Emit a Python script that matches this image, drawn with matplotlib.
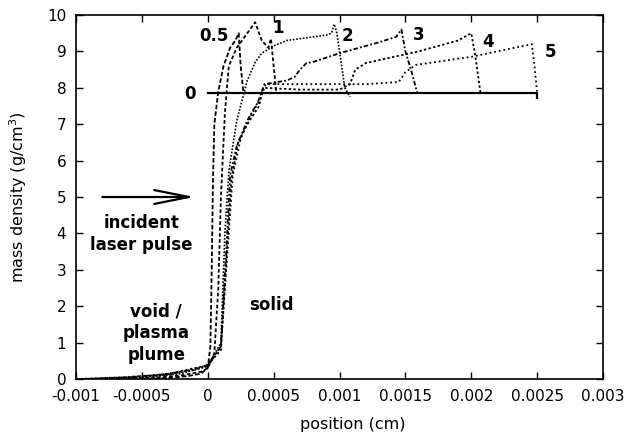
import matplotlib
matplotlib.use("Agg")
import matplotlib.pyplot as plt

# ---- data (position in cm, mass density in g/cm^3) ----
x_t0 = [0.0, 0.0025, 0.0025]
y_t0 = [7.86, 7.86, 7.72]

x_t05 = [-0.0005, -0.0003, -0.00015, -0.00005, 0.0, 0.00002, 0.00003, 0.00004,
         0.00005, 0.00008, 0.00012, 0.00017, 0.00021, 0.000235, 0.00025, 0.00027, 0.00029]
y_t05 = [0.0, 0.03, 0.08, 0.15, 0.3, 0.9, 3.0, 5.5,
         7.0, 7.9, 8.6, 9.1, 9.3, 9.5, 8.6, 7.9, 7.86]

x_t1 = [-0.0007, -0.0004, -0.0002, -0.00005, 0.0, 0.00005, 0.00008, 0.0001, 0.00013,
        0.00016, 0.00022, 0.0003, 0.00036, 0.00041, 0.00046, 0.00048, 0.0005, 0.00052]
y_t1 = [0.0, 0.04, 0.1, 0.2, 0.3, 0.7, 2.5, 5.0, 7.3,
        8.6, 9.1, 9.5, 9.8, 9.3, 9.1, 9.35, 8.6, 7.9]

x_t2 = [-0.0008, -0.0005, -0.0002, 0.0, 0.0001, 0.00013, 0.00016, 0.00022, 0.0003,
        0.00036, 0.00041, 0.0005, 0.0006, 0.0008, 0.0009, 0.00094, 0.00096, 0.00098,
        0.00101, 0.00104, 0.00108]
y_t2 = [0.0, 0.05, 0.15, 0.35, 1.0, 4.0, 5.7, 7.1, 8.2,
        8.7, 8.95, 9.15, 9.3, 9.4, 9.45, 9.5, 9.75, 9.5, 8.76, 8.0, 7.75]

x_t3 = [-0.0009, -0.0006, -0.0003, 0.0, 0.0001, 0.00014, 0.00017, 0.00022, 0.0003,
        0.00038, 0.00043, 0.0006, 0.00066, 0.0007, 0.00075, 0.0008, 0.001, 0.0013,
        0.00143, 0.00147, 0.0015, 0.00155, 0.00159]
y_t3 = [0.0, 0.04, 0.12, 0.35, 0.9, 3.5, 5.6, 6.4, 7.1,
        7.6, 8.1, 8.2, 8.3, 8.5, 8.68, 8.71, 8.95, 9.25,
        9.4, 9.6, 9.0, 8.4, 7.86]

x_t4 = [-0.00095, -0.0006, -0.0003, 0.0, 0.0001, 0.00014, 0.00018, 0.00023, 0.0003,
        0.00039, 0.00042, 0.0007, 0.001, 0.00108, 0.00112, 0.0012, 0.0016, 0.0019,
        0.002, 0.00203, 0.00207]
y_t4 = [0.0, 0.05, 0.14, 0.38, 0.8, 3.2, 5.5, 6.5, 7.0,
        7.5, 8.0, 7.95, 7.95, 8.1, 8.5, 8.68, 9.0, 9.3,
        9.5, 8.9, 7.86]

x_t5 = [-0.001, -0.0007, -0.0004, -0.0001, 0.0, 0.0001, 0.00015, 0.00019, 0.00025,
        0.00032, 0.0004, 0.00044, 0.0008, 0.0012, 0.00145, 0.0015, 0.00158, 0.002,
        0.00246, 0.00248, 0.0025]
y_t5 = [0.0, 0.04, 0.1, 0.25, 0.4, 0.9, 3.5, 5.6, 6.6,
        7.2, 7.7, 8.1, 8.1, 8.1, 8.16, 8.43, 8.63, 8.85,
        9.2, 8.6, 7.86]

curve_labels = ["0", "0.5", "1", "2", "3", "4", "5"]
label_x = [-0.000136, 0.000045, 0.00053, 0.00106, 0.0016, 0.00213, 0.0026]
label_y = [7.83, 9.42, 9.64, 9.42, 9.45, 9.26, 8.98]

xticks = [-0.001, -0.0005, 0.0, 0.0005, 0.001, 0.0015, 0.002, 0.0025, 0.003]
xtick_labels = ["-0.001", "-0.0005", "0", "0.0005", "0.001", "0.0015", "0.002", "0.0025", "0.003"]
yticks = list(range(0, 11))

# ---- figure ----
fig = plt.figure(figsize=(6.36, 4.34), dpi=100)
ax = fig.add_axes([76/636, 1-379/434, (603-76)/636, (379-15)/434])

ax.plot(x_t0, y_t0, color="black", lw=1.6, ls="-")
ax.plot(x_t05, y_t05, color="black", lw=1.3, ls=(0, (2.5, 1.2)))
ax.plot(x_t1, y_t1, color="black", lw=1.3, ls=(0, (2, 1.3)))
ax.plot(x_t2, y_t2, color="black", lw=1.2, ls=(0, (1, 1)))
ax.plot(x_t3, y_t3, color="black", lw=1.3, ls=(0, (2.5, 1.2, 1, 1.2)))
ax.plot(x_t4, y_t4, color="black", lw=1.3, ls=(0, (1.3, 1.3)))
ax.plot(x_t5, y_t5, color="black", lw=1.3, ls=(0, (1, 1.6)))

for lab, lx, ly in zip(curve_labels, label_x, label_y):
    ax.text(lx, ly, lab, ha="center", va="center", fontsize=12, fontweight="bold")

ax.annotate("", xy=(-0.0001, 5), xytext=(-0.0008, 5),
            arrowprops=dict(arrowstyle="->,head_length=1.25,head_width=0.25",
                            lw=1.6, color="black", mutation_scale=20,
                            shrinkA=0, shrinkB=0))
ax.text(-0.000504, 3.98, "incident\nlaser pulse", ha="center", va="center",
        fontsize=12, fontweight="bold", linespacing=1.25)
ax.text(-0.00039, 1.26, "void /\nplasma\nplume", ha="center", va="center",
        fontsize=12, fontweight="bold", linespacing=1.25)
ax.text(0.00048, 2.03, "solid", ha="center", va="center",
        fontsize=12, fontweight="bold")

ax.set_xlim(-0.001, 0.003)
ax.set_ylim(0, 10)
ax.set_xticks(xticks)
ax.set_xticklabels(xtick_labels)
ax.set_yticks(yticks)
ax.tick_params(direction="in", top=True, right=True, length=5, width=1,
               labelsize=11)
ax.tick_params(axis="x", pad=7)
ax.tick_params(axis="y", pad=7)
for s in ax.spines.values():
    s.set_linewidth(1.2)

ax.set_xlabel("position (cm)", fontsize=11.5)
ax.set_ylabel("mass density (g/cm$^3$)", fontsize=11.5)
ax.xaxis.set_label_coords(0.525, -0.105)
ax.yaxis.set_label_coords(-0.09, 0.5)

fig.savefig("out.png", dpi=100)
